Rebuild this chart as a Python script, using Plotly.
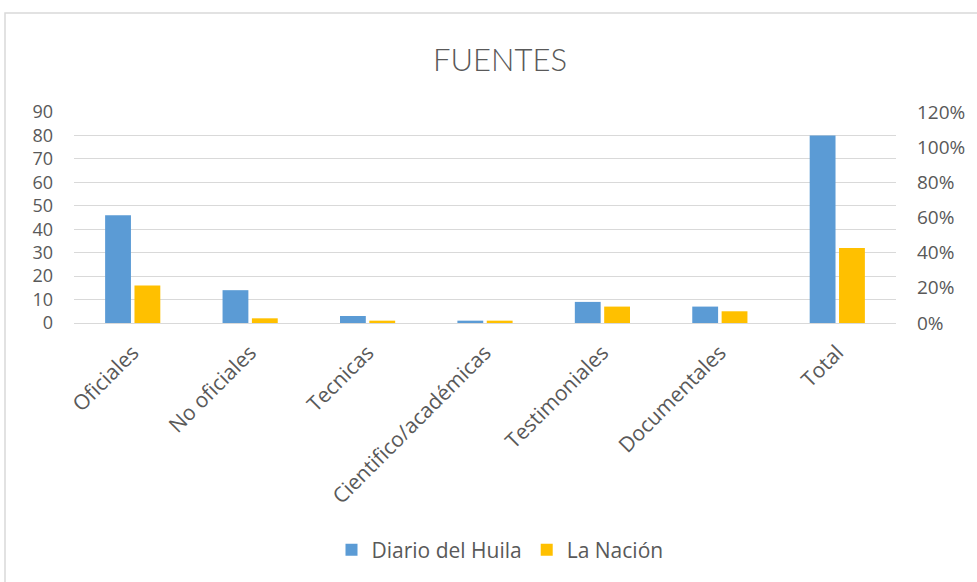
import plotly.graph_objects as go

categories = ["Oficiales", "No oficiales", "Tecnicas", "Cientifico/académicas",
              "Testimoniales", "Documentales", "Total"]
diario_huila = [46, 14, 3, 1, 9, 7, 80]
la_nacion = [16, 2, 1, 1, 7, 5, 32]
left_ticks = [0, 10, 20, 30, 40, 50, 60, 70, 80, 90]
right_ticks = [0, 0.2, 0.4, 0.6, 0.8, 1.0, 1.2]

W, H = 977, 582
L, R, T, B = 74, 896, 112, 323

fig = go.Figure()
fig.add_trace(go.Bar(x=categories, y=diario_huila, name="Diario del Huila",
                     marker=dict(color="#5B9BD5", line=dict(width=0))))
fig.add_trace(go.Bar(x=categories, y=la_nacion, name="La Nación",
                     marker=dict(color="#FFC000", line=dict(width=0))))
# invisible trace for secondary axis
fig.add_trace(go.Scatter(x=categories, y=[None]*len(categories), yaxis="y2",
                         showlegend=False, hoverinfo="skip"))

def px_x(p):
    return (p - L) / (R - L)

def px_y(p):
    return (B - p) / (B - T)

font_col = "#595959"
fam = "Open Sans, Lato, sans-serif"
fig.update_layout(
    width=W, height=H,
    margin=dict(l=L, r=W - R, t=T, b=H - B, autoexpand=False),
    paper_bgcolor="white", plot_bgcolor="white",
    font=dict(family=fam, color=font_col, size=19),
    title=dict(text="FUENTES", x=500 / W, xanchor="center", y=1 - 60 / H,
               yanchor="middle", font=dict(size=31, color=font_col,
                                            family="Lato, Open Sans, sans-serif",
                                            weight=300)),
    barmode="group", bargap=0.5, bargroupgap=0.12,
    xaxis=dict(tickangle=-45, showgrid=False, showline=True, automargin=False,
               linecolor="#D9D9D9", ticks="", ticklabelstandoff=8,
               tickfont=dict(size=21, color=font_col)),
    yaxis=dict(range=[0, 90], tickvals=left_ticks, showgrid=True, automargin=False,
               gridcolor="#D9D9D9", gridwidth=1, zeroline=False,
               ticks="", ticklabelstandoff=20,
               tickfont=dict(size=18, color=font_col)),
    yaxis2=dict(overlaying="y", side="right", range=[0, 1.2], automargin=False,
                tickvals=right_ticks, tickformat=".0%", showgrid=False,
                zeroline=False, ticks="", ticklabelstandoff=20,
                tickfont=dict(size=19, color=font_col)),
    legend=dict(orientation="h", x=px_x(500), xanchor="center",
                y=px_y(550), yanchor="middle",
                font=dict(size=21, color=font_col)),
    shapes=[dict(type="rect", xref="paper", yref="paper",
                 x0=px_x(5), x1=px_x(990), y0=px_y(600), y1=px_y(13),
                 line=dict(color="#D9D9D9", width=1.5), layer="below")],
)

fig.write_html("out.html", config={"displayModeBar": False},
               post_script="document.body.style.margin='0px';"
                           "document.body.style.overflow='hidden';")
